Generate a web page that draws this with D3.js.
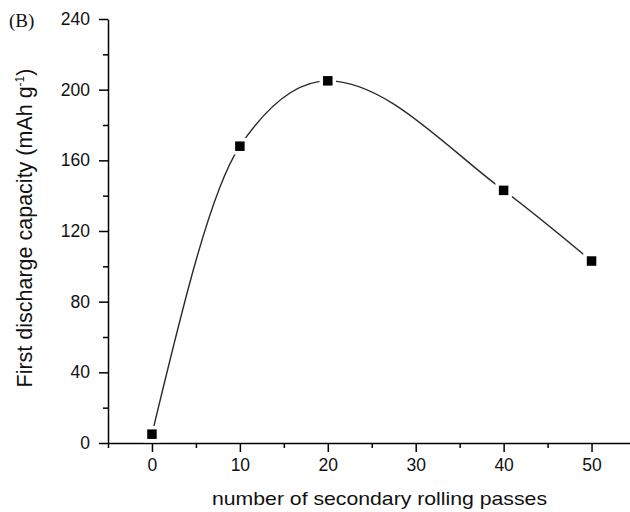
<!DOCTYPE html>
<html>
<head>
<meta charset="utf-8">
<script src="https://cdn.jsdelivr.net/npm/d3@7"></script>
<style>
  body { margin: 0; background: #fff; }
  svg { display: block; font-family: "Liberation Sans", Arial, sans-serif; }
</style>
</head>
<body>
<svg id="chart" width="630" height="512"></svg>
<script>
// --- data ---
const passes = [0, 10, 20, 40, 50];
const capacity = [5, 168, 205, 143, 103];
const xTicks = [0, 10, 20, 30, 40, 50];
const yTicks = [0, 40, 80, 120, 160, 200, 240];

const svg = d3.select('#chart');
const x = d3.scaleLinear().domain([-5, 55]).range([108, 635.5]);
const y = d3.scaleLinear().domain([0, 240]).range([443, 19]);

// minor ticks halfway between the majors
const xMinor = d3.range(-5, 56, 10);
const yMinor = d3.range(20, 240, 40);

const g = svg.append('g');

// x axis
const xAxis = g.append('g').attr('transform', `translate(0,${y(0)})`);
xAxis.call(d3.axisBottom(x).tickValues(xTicks).tickSize(9).tickSizeOuter(0).tickPadding(7));
xAxis.append('g').call(d3.axisBottom(x).tickValues(xMinor).tickSize(5).tickSizeOuter(0).tickFormat(''))
  .select('.domain').remove();

// y axis
const yAxis = g.append('g').attr('transform', `translate(${x(-5)},0)`);
yAxis.call(d3.axisLeft(y).tickValues(yTicks).tickSize(9).tickSizeOuter(0).tickPadding(9));
yAxis.append('g').call(d3.axisLeft(y).tickValues(yMinor).tickSize(5).tickSizeOuter(0).tickFormat(''))
  .select('.domain').remove();

svg.selectAll('.domain, .tick line').attr('stroke', '#000').attr('stroke-width', 1.5);
svg.selectAll('.tick text').attr('font-size', 17.5).attr('fill', '#111')
  .attr('font-family', '"Liberation Sans", Arial, sans-serif');

// spline through the points
const pts = passes.map((p, i) => [p, capacity[i]]);
const line = d3.line().x(d => x(d[0])).y(d => y(d[1])).curve(d3.curveMonotoneX);
g.append('path').datum(pts)
  .attr('d', line).attr('fill', 'none').attr('stroke', '#2a2a2a').attr('stroke-width', 1.4);

// square markers with a white halo to leave gaps in the line
const s = 9.5;
g.selectAll('rect.pt').data(pts).enter().append('rect')
  .attr('class', 'pt')
  .attr('x', d => x(d[0]) - s / 2).attr('y', d => y(d[1]) - s / 2)
  .attr('width', s).attr('height', s)
  .attr('fill', '#000').attr('stroke', '#fff').attr('stroke-width', 7)
  .style('paint-order', 'stroke');

// axis titles
svg.append('text')
  .attr('x', 379.5).attr('y', 505)
  .attr('text-anchor', 'middle').attr('font-size', 19).attr('fill', '#111')
  .attr('textLength', 335).attr('lengthAdjust', 'spacingAndGlyphs')
  .text('number of secondary rolling passes');

const yt = svg.append('text')
  .attr('transform', 'translate(32,228) rotate(-90)')
  .attr('text-anchor', 'middle').attr('font-size', 21.5).attr('fill', '#111');
yt.append('tspan').text('First discharge capacity (mAh g');
yt.append('tspan').attr('dy', -8).attr('font-size', 12).text('-1');
yt.append('tspan').attr('dy', 8).text(')');

// panel label
svg.append('text')
  .attr('x', 9).attr('y', 27)
  .attr('font-family', '"Liberation Serif", "Times New Roman", serif')
  .attr('font-size', 19).attr('fill', '#111')
  .text('(B)');
</script>
</body>
</html>
